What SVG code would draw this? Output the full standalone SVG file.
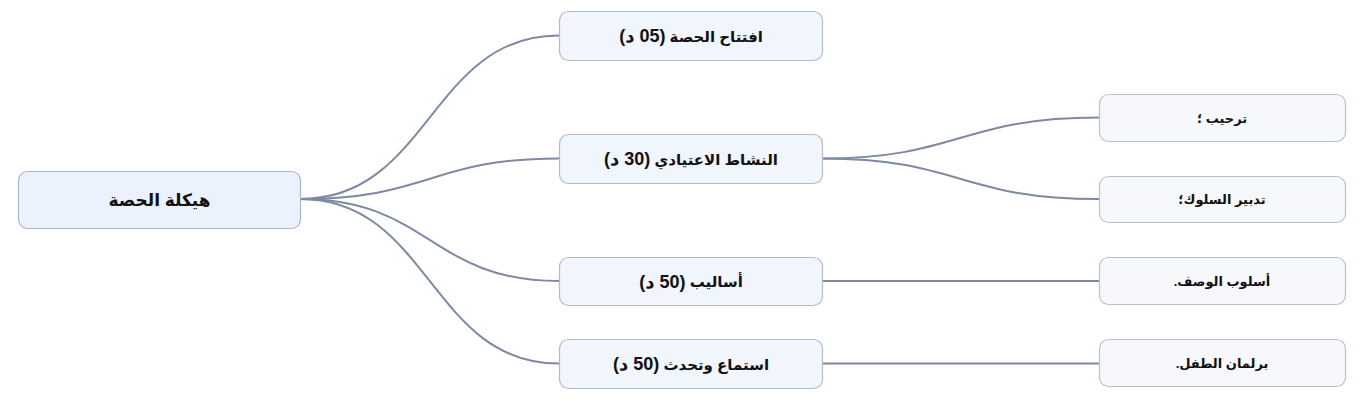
<svg xmlns="http://www.w3.org/2000/svg" width="1366" height="408" viewBox="0 0 1366 408">
<style>
.bg{fill:#ffffff}
.root rect{fill:#ebf2fd;stroke:#a9b6cc;stroke-width:1.2}
.n1 rect{fill:#f1f5fc;stroke:#b0bbcf;stroke-width:1.2}
.n2 rect{fill:#f6f8fc;stroke:#b7c1d3;stroke-width:1.2}
text{font-family:"Liberation Sans","DejaVu Sans",sans-serif;font-weight:bold;fill:#111111;text-anchor:middle;dominant-baseline:central;direction:rtl;unicode-bidi:embed}
.root text{font-size:17px}
.n1 text{font-size:15px}
.n1 text tspan{font-size:18px}
.n2 text{font-size:13px}
#connectors path{fill:none;stroke:#7d8aa1;stroke-width:2}
</style>
<rect class="bg" x="0" y="0" width="1366" height="408"/>
<g id="connectors">
<path d="M300,199 C430,199 430,35.5 559,35.5"/>
<path d="M300,199 C430,199 430,158.5 559,158.5"/>
<path d="M300,199 C430,199 430,281 559,281"/>
<path d="M300,199 C430,199 430,363.5 559,363.5"/>
<path d="M822,158.5 C960,158.5 960,117.5 1099,117.5"/>
<path d="M822,158.5 C960,158.5 960,199 1099,199"/>
<path d="M822,281 L1099,281"/>
<path d="M822,363.5 L1099,363.5"/>
</g>
<g id="root" class="root"><rect x="18.5" y="171.5" width="282" height="57" rx="9"/><text x="159.5" y="200">هيكلة الحصة</text></g>
<g id="n1" class="n1"><rect x="559.5" y="11.5" width="263" height="49" rx="9"/><text x="691" y="36">افتتاح الحصة <tspan>(05 د)</tspan></text></g>
<g id="n2" class="n1"><rect x="559.5" y="134.5" width="263" height="49" rx="9"/><text x="691" y="159">النشاط الاعتيادي  <tspan>(30 د)</tspan></text></g>
<g id="n3" class="n1"><rect x="559.5" y="257.5" width="263" height="48" rx="9"/><text x="691" y="281.5">أساليب <tspan>(50 د)</tspan></text></g>
<g id="n4" class="n1"><rect x="559.5" y="339.5" width="263" height="49" rx="9"/><text x="691" y="364">استماع وتحدث <tspan>(50 د)</tspan></text></g>
<g id="n2a" class="n2"><rect x="1099.5" y="94.5" width="246" height="47" rx="9"/><text x="1222" y="118">ترحيب ؛</text></g>
<g id="n2b" class="n2"><rect x="1099.5" y="176.5" width="246" height="46" rx="9"/><text x="1222" y="199.5">تدبير السلوك؛</text></g>
<g id="n3a" class="n2"><rect x="1099.5" y="257.5" width="246" height="47" rx="9"/><text x="1222" y="281">أسلوب الوصف.</text></g>
<g id="n4a" class="n2"><rect x="1099.5" y="339.5" width="246" height="47" rx="9"/><text x="1222" y="363">برلمان الطفل.</text></g>
</svg>
